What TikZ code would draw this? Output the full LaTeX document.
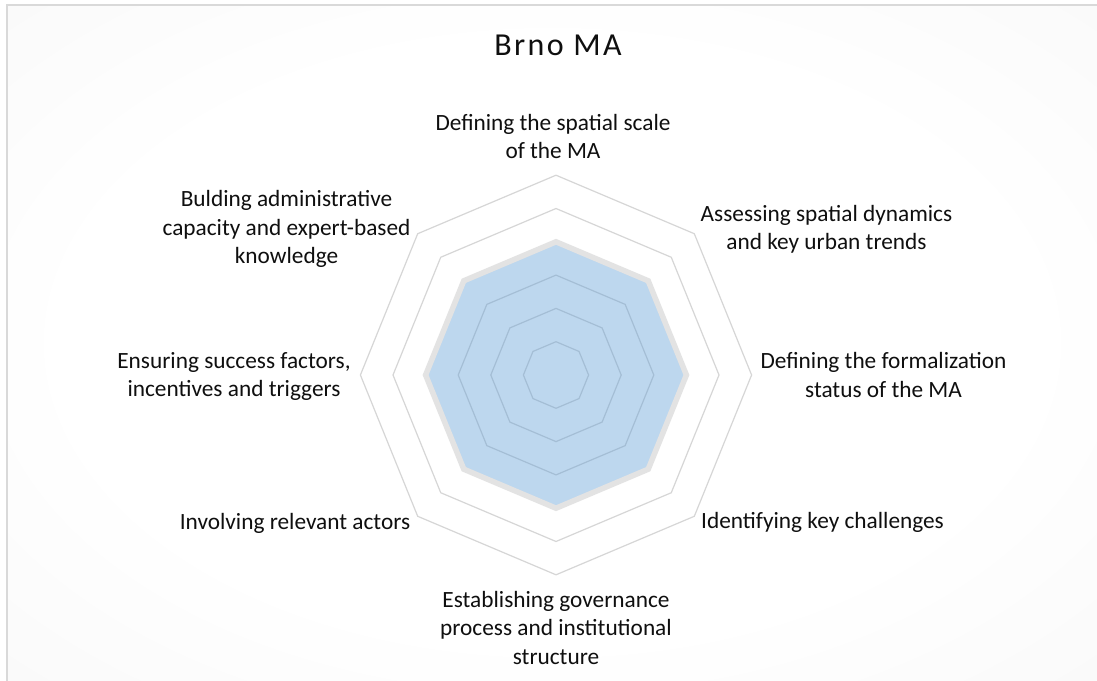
\documentclass[tikz,border=0pt]{standalone}
\usepackage{fontspec}
\setmainfont{Carlito}
\newfontfamily\titlefont[LetterSpace=7.5]{Carlito}
\definecolor{gridgray}{RGB}{214,214,214}
\definecolor{seriesblue}{RGB}{91,155,213}
\definecolor{outlinegray}{RGB}{227,227,227}
\definecolor{framegray}{RGB}{217,217,217}
\definecolor{bggray}{RGB}{241,241,241}
\definecolor{bgmid}{RGB}{249,249,249}
\definecolor{txt}{RGB}{15,15,15}
\pgfdeclareradialshading{bgshade}{\pgfpoint{0bp}{0bp}}{color(0bp)=(white); color(22bp)=(white); color(38bp)=(bgmid); color(52bp)=(bggray); color(72bp)=(bggray)}
\begin{document}
\begin{tikzpicture}[x=1pt,y=-1pt,
  gridline/.style={draw=gridgray, line width=1.2pt},
  seriesarea/.style={fill=seriesblue, fill opacity=0.4},
  seriesline/.style={draw=outlinegray, line width=5.5pt},
  axislabel/.style={font=\fontsize{23.3}{28.3}\selectfont, text=txt, align=center, anchor=base, inner sep=0pt},
  charttitle/.style={font=\titlefont\fontsize{32}{38}\selectfont, text=txt, anchor=base, inner sep=0pt}]
\useasboundingbox (0,0) rectangle (1097,680);
\fill[white] (0,0) rectangle (1097,680);
\shade[shading=bgshade] (7,5) rectangle (1097,680);
\draw[framegray, line width=2pt] (7,5) rectangle (1110,690);
% radar grid and series
\begin{scope}[shift={(556,375)}, x=32.6pt, y=33.3pt]
  \foreach \k in {1,...,6}
    \draw[gridline] (90:\k) -- (45:\k) -- (0:\k) -- (-45:\k) -- (-90:\k) -- (-135:\k) -- (180:\k) -- (135:\k) -- cycle;
  \fill[seriesarea] (90:4) -- (45:4) -- (0:4) -- (-45:4) -- (-90:4) -- (-135:4) -- (180:4) -- (135:4) -- cycle;
  \draw[seriesline] (90:4) -- (45:4) -- (0:4) -- (-45:4) -- (-90:4) -- (-135:4) -- (180:4) -- (135:4) -- cycle;
\end{scope}
% title
\node[charttitle] (title) at (558,55) {Brno MA};
% axis labels (anchor = baseline of the last line)
\node[axislabel] (lab1) at (553,158.5) {Defining the spatial scale\\of the MA};
\node[axislabel] (lab2) at (826.5,249.5) {Assessing spatial dynamics\\and key urban trends};
\node[axislabel] (lab3) at (883.5,397) {Defining the formalization\\status of the MA};
\node[axislabel] (lab4) at (822.5,528) {Identifying key challenges};
\node[axislabel] (lab5) at (556,664) {Establishing governance\\process and institutional\\structure};
\node[axislabel] (lab6) at (295,529.3) {Involving relevant actors};
\node[axislabel] (lab7) at (234,396.7) {Ensuring success factors,\\incentives and triggers};
\node[axislabel] (lab8) at (286.5,263.3) {Bulding administrative\\capacity and expert-based\\knowledge};
\end{tikzpicture}
\end{document}
